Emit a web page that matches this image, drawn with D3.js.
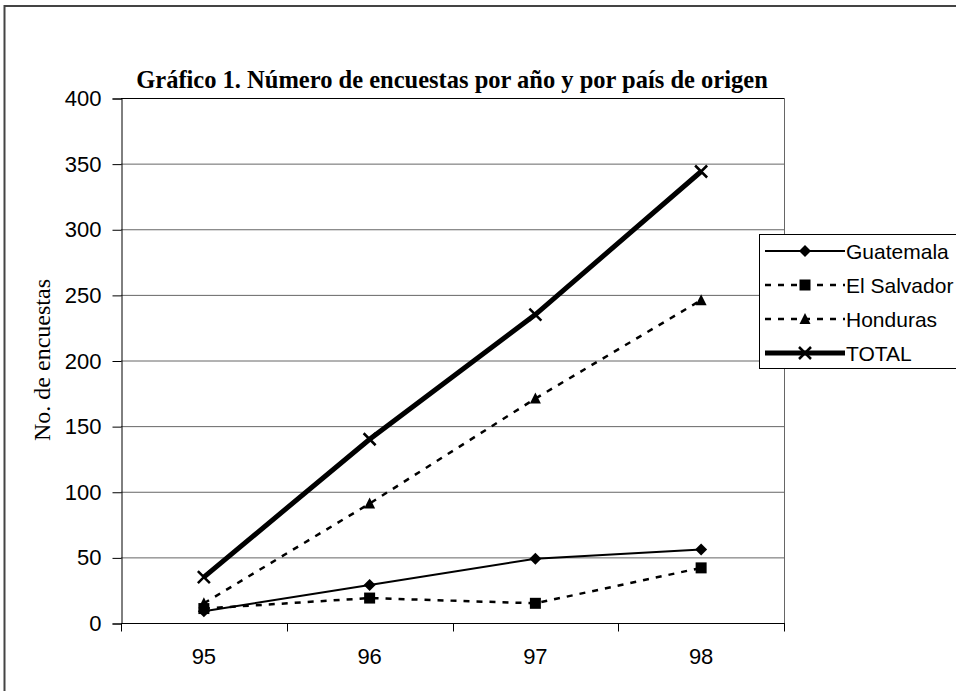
<!DOCTYPE html>
<html>
<head>
<meta charset="utf-8">
<script src="https://cdn.jsdelivr.net/npm/d3@7"></script>
<style>
  body { margin: 0; background: #fff; }
  svg { display: block; }
</style>
</head>
<body>
<svg width="956" height="691"></svg>
<script>
// values
var years = ["95", "96", "97", "98"];
var guatemala = [9, 29, 49, 56];
var elSalvador = [11, 19, 15, 42];
var honduras = [15, 91, 171, 246];
var total = [35, 140, 235, 344];
var yTicks = [0, 50, 100, 150, 200, 250, 300, 350, 400];

var series = [
    {name: "Guatemala", values: guatemala, width: 2, dash: null, marker: "diamond"},
    {name: "El Salvador", values: elSalvador, width: 2.5, dash: "6,7", marker: "square"},
    {name: "Honduras", values: honduras, width: 2.5, dash: "6,7", marker: "triangle"},
    {name: "TOTAL", values: total, width: 5, dash: null, marker: "x"}
];

var svg = d3.select("svg"),
    width = +svg.attr("width"),
    height = +svg.attr("height");

var sans = "Liberation Sans, Arial, sans-serif",
    serif = "Liberation Serif, Times New Roman, serif";

var margin = {left: 121, right: 784, top: 98, bottom: 623};

// outer frame (right and bottom edges fall outside the window)
svg.append("rect")
    .attr("x", 4.5).attr("y", 6)
    .attr("width", 1000).attr("height", 1000)
    .attr("fill", "none")
    .attr("stroke", "#444")
    .attr("stroke-width", 2);

var x = d3.scaleBand()
    .domain(years)
    .range([margin.left, margin.right]);

var y = d3.scaleLinear()
    .domain([0, 400])
    .range([margin.bottom, margin.top]);

// gridlines
svg.append("g")
    .selectAll("line")
    .data(yTicks.filter(function (d) { return d > 0; }))
    .enter().append("line")
    .attr("x1", margin.left).attr("x2", margin.right)
    .attr("y1", function (d) { return y(d) + 0.5; })
    .attr("y2", function (d) { return y(d) + 0.5; })
    .attr("stroke", function (d) { return d === 400 ? "#000" : "#666"; })
    .attr("stroke-width", 1);

// right border of plot area
svg.append("line")
    .attr("x1", margin.right + 0.5).attr("x2", margin.right + 0.5)
    .attr("y1", margin.top).attr("y2", margin.bottom)
    .attr("stroke", "#666");

// y axis
var yAxis = svg.append("g")
    .attr("transform", "translate(" + (margin.left + 0.5) + ",0.5)")
    .call(d3.axisLeft(y).tickValues(yTicks).tickSize(9).tickPadding(11));
yAxis.selectAll("text")
    .attr("font-family", sans)
    .attr("font-size", 22)
    .attr("fill", "#000");
yAxis.select(".domain").attr("stroke", "#000");
yAxis.selectAll(".tick line").attr("stroke", "#000");

// x axis, ticks between categories
var xAxis = svg.append("g")
    .attr("transform", "translate(0," + (margin.bottom + 0.5) + ")");
xAxis.append("line")
    .attr("x1", margin.left).attr("x2", margin.right + 1)
    .attr("stroke", "#000");
var edges = years.map(function (d) { return x(d); }).concat([x(years[years.length - 1]) + x.bandwidth()]);
xAxis.selectAll(".xt")
    .data(edges)
    .enter().append("line")
    .attr("class", "xt")
    .attr("x1", function (d) { return Math.round(d) + 0.5; })
    .attr("x2", function (d) { return Math.round(d) + 0.5; })
    .attr("y1", 0).attr("y2", 8)
    .attr("stroke", "#000");
xAxis.selectAll(".xl")
    .data(years)
    .enter().append("text")
    .attr("class", "xl")
    .attr("x", function (d) { return x(d) + x.bandwidth() / 2; })
    .attr("y", 40.5)
    .attr("text-anchor", "middle")
    .attr("font-family", sans)
    .attr("font-size", 22)
    .text(function (d) { return d; });

// title
svg.append("text")
    .attr("x", 452).attr("y", 88)
    .attr("text-anchor", "middle")
    .attr("font-family", serif)
    .attr("font-weight", "bold")
    .attr("font-size", 24.5)
    .text("Gráfico 1. Número de encuestas por año y por país de origen");

// y label
svg.append("text")
    .attr("transform", "translate(50,360) rotate(-90)")
    .attr("text-anchor", "middle")
    .attr("font-family", serif)
    .attr("font-size", 24)
    .text("No. de encuestas");

function drawMarker(g, type, cx, cy) {
    if (type === "diamond") {
        g.append("path")
            .attr("d", "M" + cx + "," + (cy - 6) + "L" + (cx + 6) + "," + cy + "L" + cx + "," + (cy + 6) + "L" + (cx - 6) + "," + cy + "Z")
            .attr("fill", "#000");
    } else if (type === "square") {
        g.append("rect")
            .attr("x", cx - 5.5).attr("y", cy - 5.5)
            .attr("width", 11).attr("height", 11)
            .attr("fill", "#000");
    } else if (type === "triangle") {
        g.append("path")
            .attr("d", "M" + cx + "," + (cy - 6) + "L" + (cx + 5.5) + "," + (cy + 5) + "L" + (cx - 5.5) + "," + (cy + 5) + "Z")
            .attr("fill", "#000");
    } else {
        g.append("path")
            .attr("d", "M" + (cx - 6) + "," + (cy - 6) + "L" + (cx + 6) + "," + (cy + 6) + "M" + (cx + 6) + "," + (cy - 6) + "L" + (cx - 6) + "," + (cy + 6))
            .attr("stroke", "#000")
            .attr("stroke-width", 2.5);
    }
}

var line = d3.line()
    .x(function (d, i) { return x(years[i]) + x.bandwidth() / 2; })
    .y(function (d) { return y(d); });

var plot = svg.append("g");
series.forEach(function (s) {
    plot.append("path")
        .datum(s.values)
        .attr("d", line)
        .attr("fill", "none")
        .attr("stroke", "#000")
        .attr("stroke-width", s.width)
        .attr("stroke-dasharray", s.dash);
    s.values.forEach(function (v, i) {
        drawMarker(plot, s.marker, x(years[i]) + x.bandwidth() / 2, y(v));
    });
});

// legend
var legend = svg.append("g");
legend.append("rect")
    .attr("x", 759.5).attr("y", 234.5)
    .attr("width", 210).attr("height", 134)
    .attr("fill", "#fff")
    .attr("stroke", "#000");
series.forEach(function (s, i) {
    var ly = 251 + i * 34;
    legend.append("line")
        .attr("x1", 765).attr("x2", 845)
        .attr("y1", ly).attr("y2", ly)
        .attr("stroke", "#000")
        .attr("stroke-width", s.width)
        .attr("stroke-dasharray", s.dash);
    drawMarker(legend, s.marker, 805, ly);
    legend.append("text")
        .attr("x", 846).attr("y", ly + 7.5)
        .attr("font-family", sans)
        .attr("font-size", 21)
        .text(s.name);
});
</script>
</body>
</html>
